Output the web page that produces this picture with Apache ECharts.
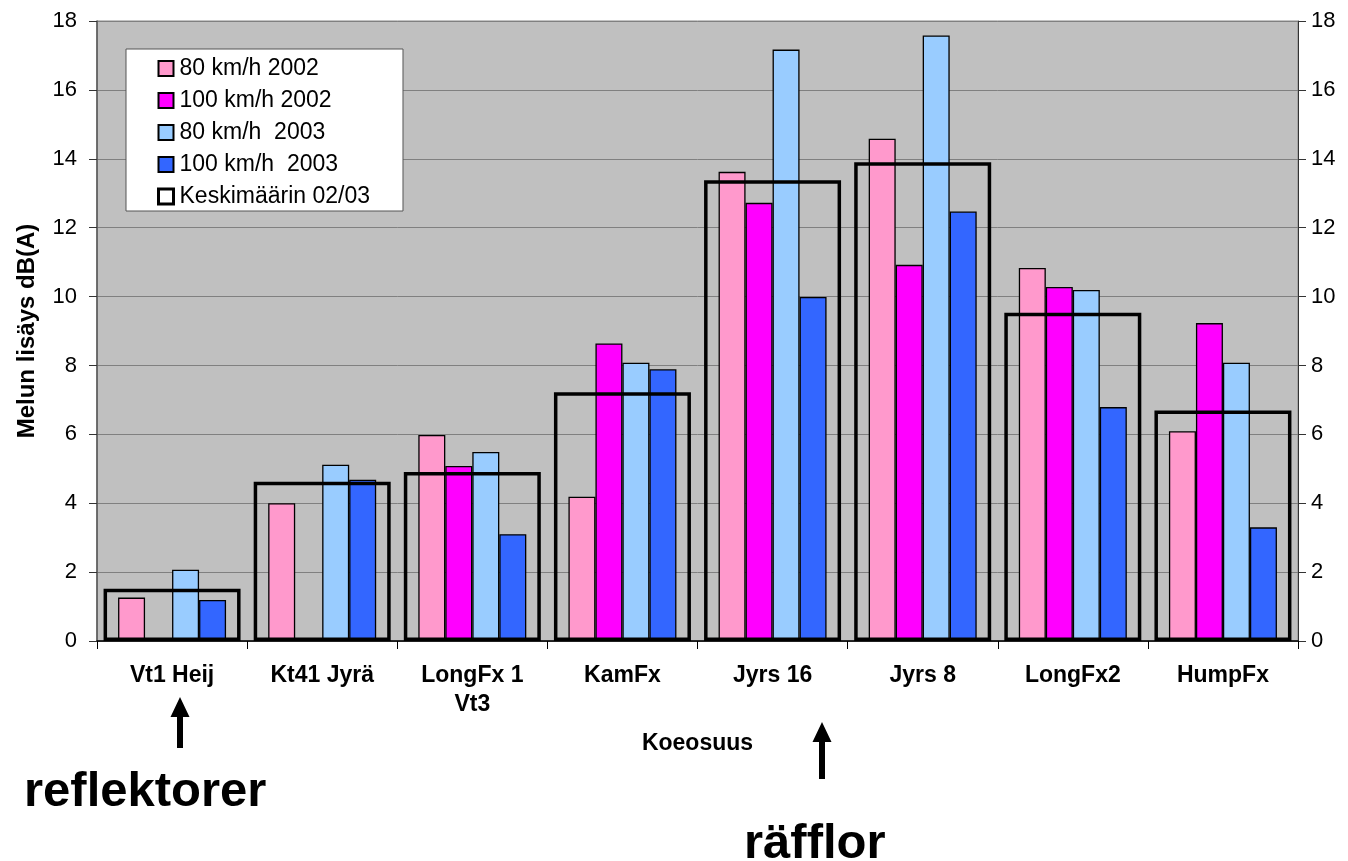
<!DOCTYPE html>
<html>
<head>
<meta charset="utf-8">
<script src="https://cdn.jsdelivr.net/npm/echarts@6/dist/echarts.min.js"></script>
<style>html,body{margin:0;padding:0;background:#fff;}#c{width:1348px;height:861px;}</style>
</head>
<body>
<div id="c"></div>
<script>
const categories = ['Vt1 Heij', 'Kt41 Jyrä', 'LongFx 1\nVt3', 'KamFx', 'Jyrs 16', 'Jyrs 8', 'LongFx2', 'HumpFx'];
const seriesNames = ['80 km/h 2002', '100 km/h 2002', '80 km/h  2003', '100 km/h  2003', 'Keskimäärin 02/03'];
const v80_2002 = [1.26, 4.0, 5.98, 4.19, 13.62, 14.58, 10.83, 6.09];
const v100_2002 = [null, null, 5.08, 8.64, 12.72, 10.92, 10.28, 9.23];
const v80_2003 = [2.07, 5.12, 5.49, 8.08, 17.17, 17.58, 10.19, 8.08];
const v100_2003 = [1.19, 4.68, 3.1, 7.89, 9.99, 12.47, 6.79, 3.3];
const avg0203 = [1.52, 4.62, 4.91, 7.22, 13.38, 13.9, 9.53, 6.69];
const yTicks = [0, 2, 4, 6, 8, 10, 12, 14, 16, 18];

const colors = ['#ff99cc', '#ff00ff', '#99ccff', '#3366ff'];
const FONT = 'Liberation Sans, Arial, sans-serif';

const chart = echarts.init(document.getElementById('c'), null, {renderer: 'canvas'});

function barSeries(i, data) {
  return {
    name: seriesNames[i], type: 'bar', data: data, xAxisIndex: 0, yAxisIndex: 0,
    barWidth: 27, barGap: '0%', barCategoryGap: '27%',
    itemStyle: {color: colors[i], borderColor: '#000', borderWidth: 1.3},
    emphasis: {disabled: true}, z: 2
  };
}

const yAxisCommon = {
  type: 'value', min: yTicks[0], max: yTicks[yTicks.length - 1], interval: 2,
  axisLine: {show: true, lineStyle: {color: '#555', width: 1.5}},
  axisTick: {show: true, length: 8, lineStyle: {color: '#333', width: 1}},
  axisLabel: {color: '#000', fontSize: 22, fontFamily: FONT, margin: 13},
  splitLine: {show: false}
};

function arrow(x, tip, bottom) {
  const hw = 9.5, sw = 3, hh = 20;
  return {type: 'polygon', silent: true, shape: {points: [[x, tip], [x - hw, tip + hh], [x - sw, tip + hh], [x - sw, bottom], [x + sw, bottom], [x + sw, tip + hh], [x + hw, tip + hh]]}, style: {fill: '#000'}};
}

chart.setOption({
  animation: false,
  backgroundColor: '#fff',
  grid: {left: 97, right: 50, top: 21, bottom: 220, show: true, backgroundColor: '#c0c0c0', borderColor: '#888', borderWidth: 1},
  legend: {
    orient: 'vertical', left: 126, top: 49,
    padding: [8, 33, 3, 31],
    backgroundColor: '#fff', borderColor: '#555', borderWidth: 1,
    itemWidth: 15, itemHeight: 15, itemGap: 9,
    icon: 'rect',
    textStyle: {color: '#000', fontSize: 23, fontFamily: FONT, lineHeight: 20, padding: [0, 0, 0, 1]},
    data: [
      {name: seriesNames[0]}, {name: seriesNames[1]}, {name: seriesNames[2]}, {name: seriesNames[3]},
      {name: seriesNames[4], itemStyle: {color: '#fff', borderColor: '#000', borderWidth: 3}}
    ],
    selectedMode: false
  },
  xAxis: [
    {
      type: 'category', data: categories, position: 'bottom',
      axisLine: {show: true, lineStyle: {color: '#000', width: 1.5}},
      axisTick: {show: true, length: 8, lineStyle: {color: '#000', width: 1}},
      axisLabel: {color: '#000', fontSize: 23, fontWeight: 'bold', fontFamily: FONT, margin: 20, lineHeight: 29, interval: 0},
      name: 'Koeosuus', nameLocation: 'middle', nameGap: 91,
      nameTextStyle: {color: '#000', fontSize: 23, fontWeight: 'bold', fontFamily: FONT}
    },
    {type: 'category', data: categories, show: false}
  ],
  yAxis: [
    Object.assign({}, yAxisCommon, {
      position: 'left',
      axisLabel: {color: '#000', fontSize: 22, fontFamily: FONT, margin: 20},
      splitLine: {show: true, lineStyle: {color: '#808080', width: 1}},
      name: 'Melun lisäys dB(A)', nameLocation: 'middle', nameGap: 58, nameRotate: 90,
      nameTextStyle: {color: '#000', fontSize: 24, fontWeight: 'bold', fontFamily: FONT}
    }),
    Object.assign({}, yAxisCommon, {position: 'right', axisLine: {show: true, lineStyle: {color: '#333', width: 1}}})
  ],
  series: [
    barSeries(0, v80_2002),
    barSeries(1, v100_2002),
    barSeries(2, v80_2003),
    barSeries(3, v100_2003),
    {
      name: seriesNames[4], type: 'bar', data: avg0203, xAxisIndex: 1, yAxisIndex: 0,
      barWidth: 137,
      itemStyle: {color: 'rgba(0,0,0,0)', borderColor: '#000', borderWidth: 3.5},
      emphasis: {disabled: true}, z: 5
    }
  ],
  graphic: [
    arrow(180, 697, 748),
    arrow(822, 722, 779),
    {type: 'text', left: 24, top: 768, style: {text: 'reflektorer', fill: '#000', font: 'bold 49px ' + FONT}},
    {type: 'text', left: 744, top: 820, style: {text: 'räfflor', fill: '#000', font: 'bold 49px ' + FONT}}
  ]
});
</script>
</body>
</html>
